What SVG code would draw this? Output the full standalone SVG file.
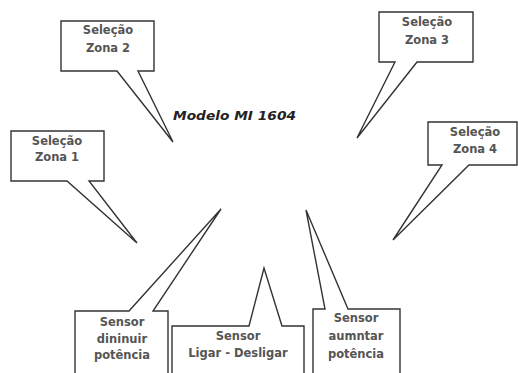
<svg xmlns="http://www.w3.org/2000/svg" width="518" height="373" viewBox="0 0 518 373">
<style>
.c{fill:#fff;stroke:#333;stroke-width:1.4;stroke-linejoin:miter}
.t{font-family:"DejaVu Sans",sans-serif;font-weight:bold;font-size:11.5px;fill:#555;text-anchor:middle}
.title{font-family:"DejaVu Sans",sans-serif;font-weight:bold;font-style:italic;font-size:13px;fill:#222}
</style>
<rect width="518" height="373" fill="#fff"/>
<g id="title"><text class="title" x="173" y="120" textLength="123" lengthAdjust="spacingAndGlyphs">Modelo MI 1604</text></g>
<g id="connectors"></g>
<g id="zona2">
<path class="c" d="M61,21 H154 V71 H138 L173,142 L117,71 H61 Z"/>
<text class="t" x="108" y="34">Seleção</text>
<text class="t" x="108" y="52">Zona 2</text>
</g>
<g id="zona3">
<path class="c" d="M379,12 H473 V62 H417 L357,138 L395,62 H379 Z"/>
<text class="t" x="427" y="26">Seleção</text>
<text class="t" x="427" y="44">Zona 3</text>
</g>
<g id="zona1">
<path class="c" d="M11,131 H104 V181 H89 L137,243 L67,181 H11 Z"/>
<text class="t" x="57" y="145">Seleção</text>
<text class="t" x="57" y="161">Zona 1</text>
</g>
<g id="zona4">
<path class="c" d="M428,122 H517 V165 H469 L393,240 L442,165 H428 Z"/>
<text class="t" x="475" y="136">Seleção</text>
<text class="t" x="475" y="153">Zona 4</text>
</g>
<g id="diminuir">
<path class="c" d="M75,380 V311 H129 L221,209 L153,311 H168 V380"/>
<text class="t" x="122" y="326">Sensor</text>
<text class="t" x="122" y="343">dininuir</text>
<text class="t" x="122" y="359">potência</text>
</g>
<g id="ligar">
<path class="c" d="M172,380 V326 H249 L264,268 L282,326 H304 V380"/>
<text class="t" x="238" y="340">Sensor</text>
<text class="t" x="238" y="357">Ligar - Desligar</text>
</g>
<g id="aumentar">
<path class="c" d="M313,380 V309 H325 L306,210 L348,309 H400 V380"/>
<text class="t" x="356" y="322">Sensor</text>
<text class="t" x="356" y="340">aumntar</text>
<text class="t" x="356" y="358">potência</text>
</g>
</svg>
